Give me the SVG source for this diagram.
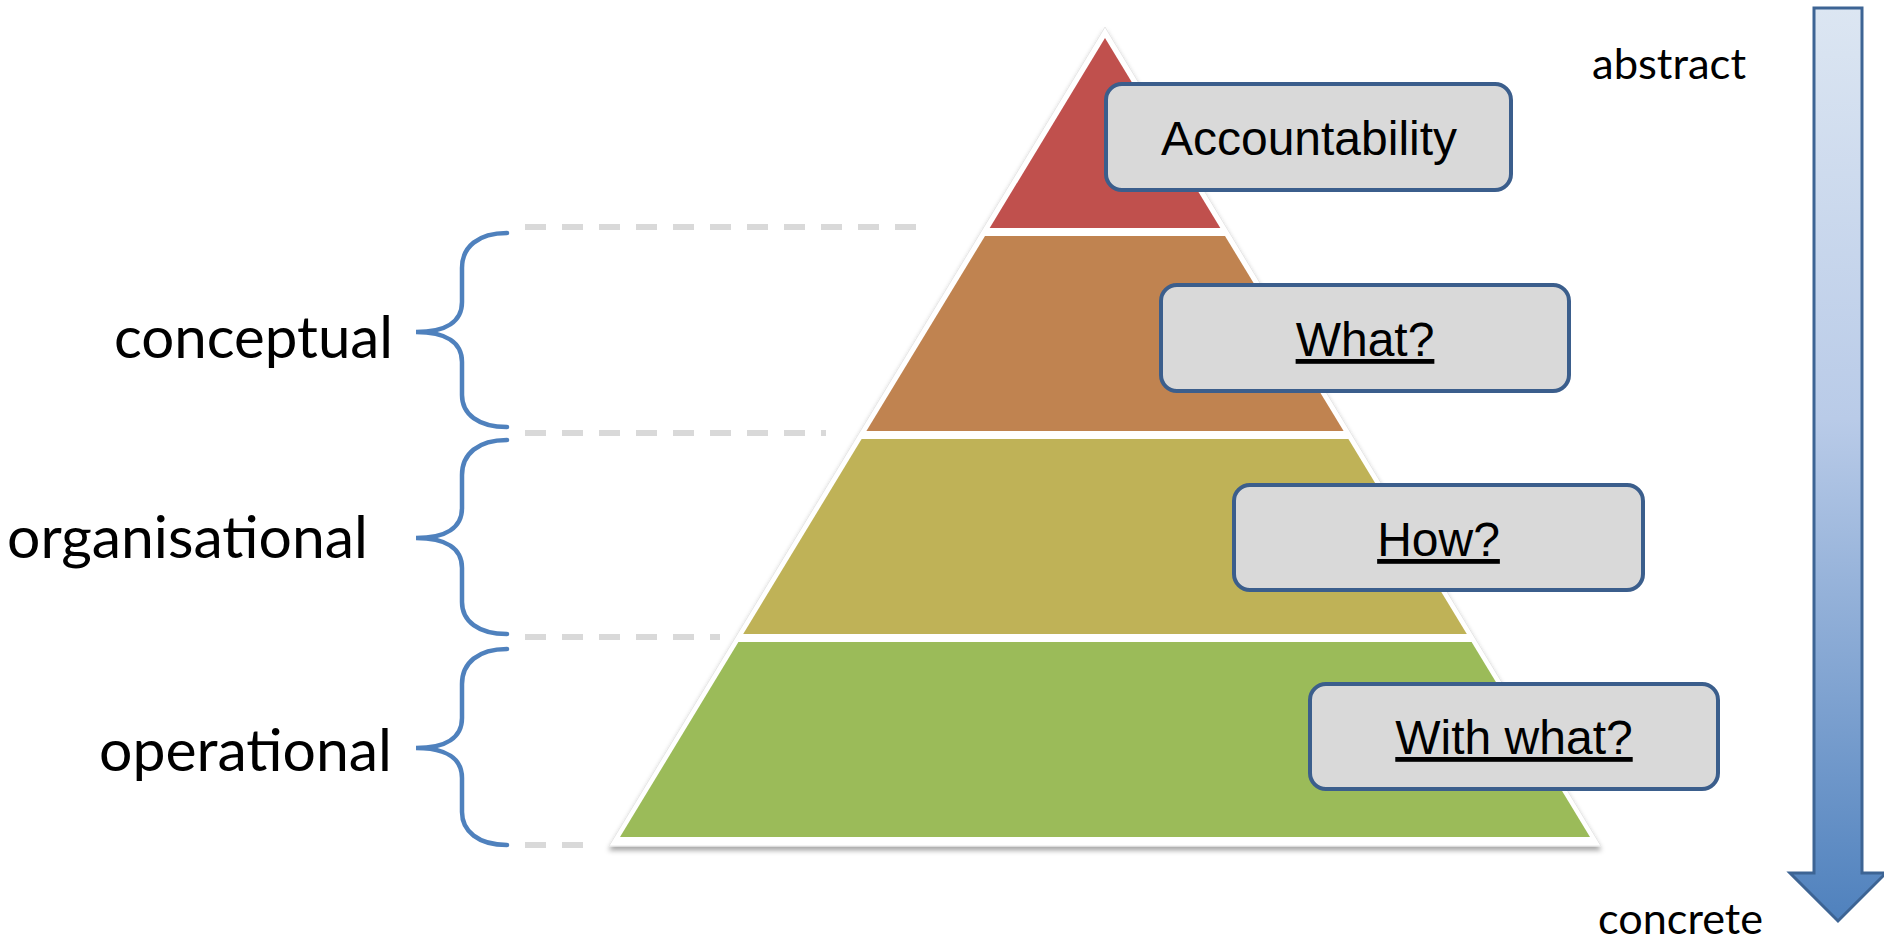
<svg xmlns="http://www.w3.org/2000/svg" width="1884" height="943" viewBox="0 0 1884 943">
<defs>
<style>
.box{fill:#d9d9d9;stroke:#3b5e8c;stroke-width:4}
.btxt{font-family:"Liberation Sans",Arial,sans-serif;font-size:48px;fill:#000;text-anchor:middle}
.u{text-decoration:underline}
.lbl{font-family:Lato,"Open Sans",sans-serif;font-size:58px;fill:#000;text-anchor:end}
.small{font-family:Lato,"Open Sans",sans-serif;font-size:43px;fill:#000}
.brace{fill:none;stroke:#4f81bd;stroke-width:4.5;stroke-linecap:round}
.dash{fill:none;stroke:#d9d9d9;stroke-width:6;stroke-dasharray:21 16}
.layer{stroke:none}
</style>
<filter id="sh" x="-5%" y="-5%" width="110%" height="115%">
<feDropShadow dx="0" dy="4" stdDeviation="2.5" flood-color="#000" flood-opacity="0.35"/>
</filter>
<linearGradient id="ag" x1="0" y1="0" x2="0" y2="1">
<stop offset="0" stop-color="#dce6f2"/>
<stop offset="0.45" stop-color="#b9cbe8"/>
<stop offset="1" stop-color="#4f81bd"/>
</linearGradient>
</defs>
<rect width="1884" height="943" fill="#fff"/>

<g id="guides">
<line class="dash" x1="525" y1="227" x2="919" y2="227"/>
<line class="dash" x1="525" y1="433" x2="826" y2="433"/>
<line class="dash" x1="525" y1="637" x2="720" y2="637"/>
<line class="dash" x1="525" y1="845" x2="584" y2="845"/>
</g>

<g id="pyramid">
<polygon points="1105,27 1601,846 609,846" fill="#fff" stroke="#e6e6e6" stroke-width="1" filter="url(#sh)"/>
<polygon id="layer-top" class="layer" points="1105,38 1220.3,228 989.7,228" fill="#c0504d"/>
<polygon id="layer-conceptual" class="layer" points="985,236 1225,236 1343.6,431 866.4,431" fill="#c08350"/>
<polygon id="layer-organisational" class="layer" points="861.6,439 1348.4,439 1466.8,634 743.2,634" fill="#bfb257"/>
<polygon id="layer-operational" class="layer" points="738.4,642 1471.6,642 1590,837 620,837" fill="#9bbb59"/>
</g>

<g id="box-accountability">
<rect class="box" x="1106" y="84" width="405" height="106" rx="16"/>
<text class="btxt" x="1309" y="155">Accountability</text>
</g>
<g id="box-what">
<rect class="box" x="1161" y="285" width="408" height="106" rx="16"/>
<text class="btxt u" x="1365" y="356">What?</text>
</g>
<g id="box-how">
<rect class="box" x="1234" y="485" width="409" height="105" rx="16"/>
<text class="btxt u" x="1438.5" y="556">How?</text>
</g>
<g id="box-withwhat">
<rect class="box" x="1310" y="684" width="408" height="105" rx="16"/>
<text class="btxt u" x="1514" y="754">With what?</text>
</g>

<g id="connectors">
<path id="brace-conceptual" class="brace" d="M507,233 C478,233 462,247 462,268 L462,302 C462,321 447,332 416,332 C447,332 462,343 462,362 L462,395 C462,414 478,427 507,427"/>
<path id="brace-organisational" class="brace" d="M507,440 C478,440 462,454 462,475 L462,508 C462,527 447,538 416,538 C447,538 462,549 462,568 L462,602 C462,621 478,634 507,634"/>
<path id="brace-operational" class="brace" d="M507,649 C478,649 462,663 462,684 L462,718 C462,737 447,748 416,748 C447,748 462,759 462,778 L462,812 C462,831 478,845 507,845"/>
</g>

<g id="label-conceptual"><text class="lbl" x="393" y="358" textLength="279" lengthAdjust="spacingAndGlyphs">conceptual</text></g>
<g id="label-organisational"><text class="lbl" x="368" y="558" textLength="361" lengthAdjust="spacingAndGlyphs">organisational</text></g>
<g id="label-operational"><text class="lbl" x="392" y="771" textLength="293" lengthAdjust="spacingAndGlyphs">operational</text></g>

<g id="scale-arrow">
<path d="M1814,8 L1862,8 L1862,873 L1886,873 L1838,921 L1790,873 L1814,873 Z" fill="url(#ag)" stroke="#3d6494" stroke-width="3" stroke-linejoin="miter"/>
</g>
<g id="label-abstract"><text class="small" x="1592" y="79" textLength="154" lengthAdjust="spacingAndGlyphs">abstract</text></g>
<g id="label-concrete"><text class="small" x="1598" y="934" textLength="165" lengthAdjust="spacingAndGlyphs">concrete</text></g>
</svg>
